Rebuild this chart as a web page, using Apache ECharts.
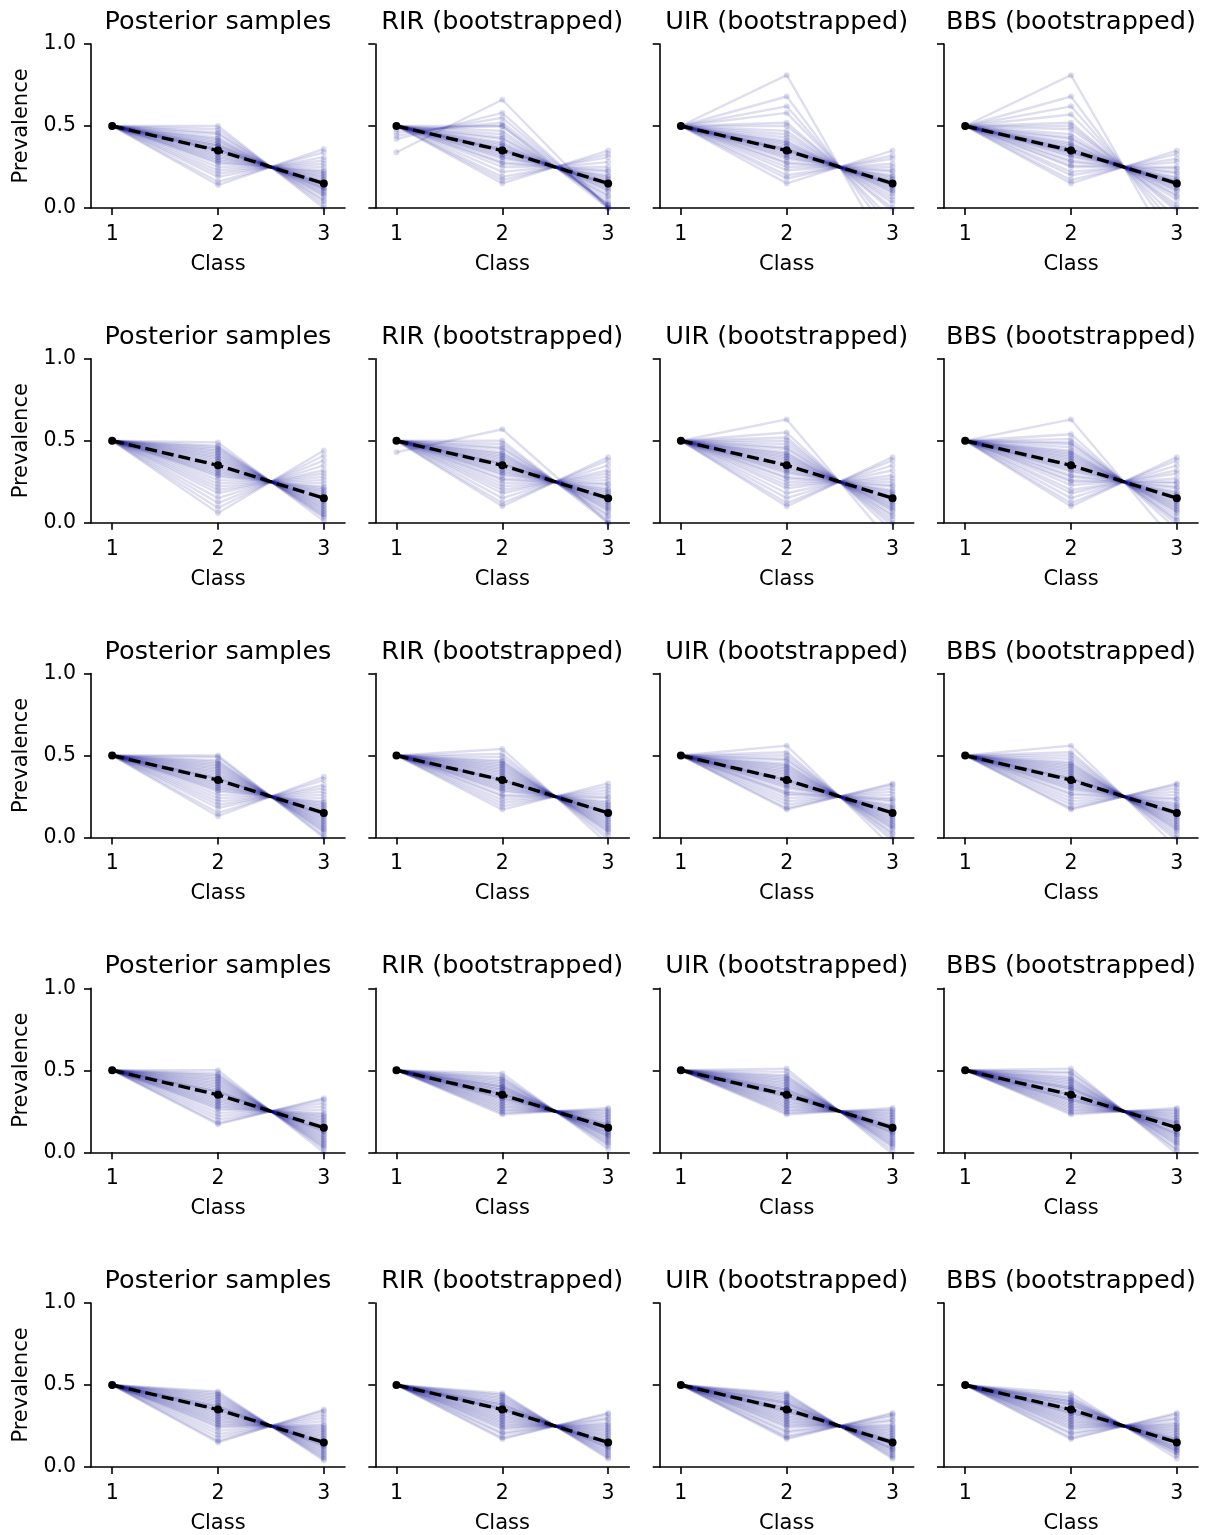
<!DOCTYPE html>
<html>
<head>
<meta charset="utf-8">
<script src="https://cdn.jsdelivr.net/npm/echarts@6/dist/echarts.min.js"></script>
<style>
  html, body { margin: 0; padding: 0; background: #fff; }
  #main { width: 1211px; height: 1535px; }
</style>
</head>
<body>
<div id="main"></div>
<script>
// x categories and reference prevalence
const classes = [1, 2, 3];
const truePrev = [0.5, 0.35, 0.15];
const xTicks = [1, 2, 3];
const yTicks = [0, 0.5, 1.0];
const titles = ['Posterior samples', 'RIR (bootstrapped)', 'UIR (bootstrapped)', 'BBS (bootstrapped)'];

const r1Post = [[0.5,0.50,0.00],[0.5,0.48,0.02],[0.5,0.46,0.04],[0.5,0.45,0.05],[0.5,0.43,0.07],[0.5,0.42,0.08],[0.5,0.41,0.09],[0.5,0.40,0.10],[0.5,0.39,0.11],[0.5,0.38,0.12],[0.5,0.38,0.12],[0.5,0.37,0.13],[0.5,0.36,0.14],[0.5,0.36,0.14],[0.5,0.35,0.15],[0.5,0.35,0.15],[0.5,0.34,0.16],[0.5,0.33,0.17],[0.5,0.32,0.18],[0.5,0.31,0.19],[0.5,0.30,0.20],[0.5,0.29,0.21],[0.5,0.28,0.22],[0.5,0.27,0.23],[0.5,0.25,0.25],[0.5,0.23,0.27],[0.5,0.21,0.29],[0.5,0.19,0.31],[0.5,0.16,0.34],[0.5,0.14,0.36]];
const r1Rir = [[0.34,0.66,0.00],[0.42,0.58,0.00],[0.44,0.55,0.01],[0.46,0.52,0.02],[0.48,0.50,0.02],[0.5,0.50,0.00],[0.5,0.47,0.03],[0.5,0.45,0.05],[0.5,0.43,0.07],[0.5,0.42,0.08],[0.5,0.40,0.10],[0.5,0.39,0.11],[0.5,0.38,0.12],[0.5,0.37,0.13],[0.5,0.36,0.14],[0.5,0.36,0.14],[0.5,0.35,0.15],[0.5,0.35,0.15],[0.5,0.34,0.16],[0.5,0.33,0.17],[0.5,0.32,0.18],[0.5,0.31,0.19],[0.5,0.30,0.20],[0.5,0.28,0.22],[0.5,0.27,0.23],[0.5,0.25,0.25],[0.5,0.22,0.28],[0.5,0.19,0.31],[0.5,0.17,0.33],[0.5,0.15,0.35]];
const r1Uir = [[0.5,0.81,-0.31],[0.5,0.68,-0.18],[0.5,0.62,-0.12],[0.5,0.58,-0.08],[0.5,0.52,-0.02],[0.5,0.50,0.00],[0.5,0.47,0.03],[0.5,0.45,0.05],[0.5,0.43,0.07],[0.5,0.41,0.09],[0.5,0.40,0.10],[0.5,0.39,0.11],[0.5,0.38,0.12],[0.5,0.37,0.13],[0.5,0.36,0.14],[0.5,0.36,0.14],[0.5,0.35,0.15],[0.5,0.35,0.15],[0.5,0.34,0.16],[0.5,0.33,0.17],[0.5,0.32,0.18],[0.5,0.31,0.19],[0.5,0.30,0.20],[0.5,0.28,0.22],[0.5,0.27,0.23],[0.5,0.25,0.25],[0.5,0.23,0.27],[0.5,0.20,0.30],[0.5,0.18,0.32],[0.5,0.15,0.35]];
const r1Bbs = [[0.5,0.81,-0.31],[0.5,0.68,-0.18],[0.5,0.62,-0.12],[0.5,0.57,-0.07],[0.5,0.52,-0.02],[0.5,0.50,0.00],[0.5,0.48,0.02],[0.5,0.45,0.05],[0.5,0.43,0.07],[0.5,0.42,0.08],[0.5,0.40,0.10],[0.5,0.39,0.11],[0.5,0.38,0.12],[0.5,0.37,0.13],[0.5,0.36,0.14],[0.5,0.36,0.14],[0.5,0.35,0.15],[0.5,0.34,0.16],[0.5,0.34,0.16],[0.5,0.33,0.17],[0.5,0.32,0.18],[0.5,0.31,0.19],[0.5,0.29,0.21],[0.5,0.28,0.22],[0.5,0.26,0.24],[0.5,0.25,0.25],[0.5,0.22,0.28],[0.5,0.20,0.30],[0.5,0.17,0.33],[0.5,0.15,0.35]];

const r2Post = [[0.5,0.49,0.01],[0.5,0.47,0.03],[0.5,0.46,0.04],[0.5,0.45,0.05],[0.5,0.44,0.06],[0.5,0.43,0.07],[0.5,0.42,0.08],[0.5,0.41,0.09],[0.5,0.40,0.10],[0.5,0.39,0.11],[0.5,0.38,0.12],[0.5,0.37,0.13],[0.5,0.36,0.14],[0.5,0.35,0.15],[0.5,0.34,0.16],[0.5,0.33,0.17],[0.5,0.32,0.18],[0.5,0.31,0.19],[0.5,0.30,0.20],[0.5,0.29,0.21],[0.5,0.28,0.22],[0.5,0.26,0.24],[0.5,0.24,0.26],[0.5,0.22,0.28],[0.5,0.20,0.30],[0.5,0.18,0.32],[0.5,0.15,0.35],[0.5,0.12,0.38],[0.5,0.09,0.41],[0.5,0.06,0.44]];
const r2Rir = [[0.43,0.57,0.00],[0.5,0.50,0.00],[0.5,0.48,0.02],[0.5,0.46,0.04],[0.5,0.45,0.05],[0.5,0.43,0.07],[0.5,0.42,0.08],[0.5,0.41,0.09],[0.5,0.40,0.10],[0.5,0.39,0.11],[0.5,0.38,0.12],[0.5,0.37,0.13],[0.5,0.36,0.14],[0.5,0.36,0.14],[0.5,0.35,0.15],[0.5,0.34,0.16],[0.5,0.33,0.17],[0.5,0.32,0.18],[0.5,0.31,0.19],[0.5,0.30,0.20],[0.5,0.29,0.21],[0.5,0.27,0.23],[0.5,0.26,0.24],[0.5,0.24,0.26],[0.5,0.22,0.28],[0.5,0.20,0.30],[0.5,0.18,0.32],[0.5,0.15,0.35],[0.5,0.12,0.38],[0.5,0.10,0.40]];
const r2Uir = [[0.5,0.63,-0.13],[0.5,0.55,-0.05],[0.5,0.52,-0.02],[0.5,0.50,0.00],[0.5,0.48,0.02],[0.5,0.46,0.04],[0.5,0.45,0.05],[0.5,0.43,0.07],[0.5,0.42,0.08],[0.5,0.41,0.09],[0.5,0.40,0.10],[0.5,0.39,0.11],[0.5,0.38,0.12],[0.5,0.37,0.13],[0.5,0.36,0.14],[0.5,0.35,0.15],[0.5,0.34,0.16],[0.5,0.33,0.17],[0.5,0.32,0.18],[0.5,0.31,0.19],[0.5,0.30,0.20],[0.5,0.28,0.22],[0.5,0.27,0.23],[0.5,0.25,0.25],[0.5,0.23,0.27],[0.5,0.21,0.29],[0.5,0.18,0.32],[0.5,0.15,0.35],[0.5,0.12,0.38],[0.5,0.10,0.40]];
const r2Bbs = [[0.5,0.63,-0.13],[0.5,0.54,-0.04],[0.5,0.51,-0.01],[0.5,0.49,0.01],[0.5,0.48,0.02],[0.5,0.46,0.04],[0.5,0.44,0.06],[0.5,0.43,0.07],[0.5,0.42,0.08],[0.5,0.41,0.09],[0.5,0.40,0.10],[0.5,0.39,0.11],[0.5,0.38,0.12],[0.5,0.37,0.13],[0.5,0.36,0.14],[0.5,0.35,0.15],[0.5,0.34,0.16],[0.5,0.33,0.17],[0.5,0.32,0.18],[0.5,0.31,0.19],[0.5,0.29,0.21],[0.5,0.28,0.22],[0.5,0.26,0.24],[0.5,0.25,0.25],[0.5,0.23,0.27],[0.5,0.20,0.30],[0.5,0.18,0.32],[0.5,0.15,0.35],[0.5,0.12,0.38],[0.5,0.10,0.40]];

const r3Post = [[0.5,0.50,0.00],[0.5,0.49,0.01],[0.5,0.47,0.03],[0.5,0.46,0.04],[0.5,0.45,0.05],[0.5,0.44,0.06],[0.5,0.43,0.07],[0.5,0.42,0.08],[0.5,0.41,0.09],[0.5,0.40,0.10],[0.5,0.39,0.11],[0.5,0.38,0.12],[0.5,0.37,0.13],[0.5,0.36,0.14],[0.5,0.36,0.14],[0.5,0.35,0.15],[0.5,0.34,0.16],[0.5,0.33,0.17],[0.5,0.32,0.18],[0.5,0.31,0.19],[0.5,0.30,0.20],[0.5,0.29,0.21],[0.5,0.28,0.22],[0.5,0.26,0.24],[0.5,0.24,0.26],[0.5,0.22,0.28],[0.5,0.20,0.30],[0.5,0.18,0.32],[0.5,0.15,0.35],[0.5,0.13,0.37]];
const r3Rir = [[0.5,0.54,-0.04],[0.5,0.51,-0.01],[0.5,0.49,0.01],[0.5,0.47,0.03],[0.5,0.46,0.04],[0.5,0.45,0.05],[0.5,0.44,0.06],[0.5,0.43,0.07],[0.5,0.42,0.08],[0.5,0.41,0.09],[0.5,0.40,0.10],[0.5,0.39,0.11],[0.5,0.38,0.12],[0.5,0.37,0.13],[0.5,0.36,0.14],[0.5,0.35,0.15],[0.5,0.35,0.15],[0.5,0.34,0.16],[0.5,0.33,0.17],[0.5,0.32,0.18],[0.5,0.31,0.19],[0.5,0.30,0.20],[0.5,0.29,0.21],[0.5,0.28,0.22],[0.5,0.26,0.24],[0.5,0.25,0.25],[0.5,0.23,0.27],[0.5,0.21,0.29],[0.5,0.19,0.31],[0.5,0.17,0.33]];
const r3Uir = [[0.5,0.56,-0.06],[0.5,0.52,-0.02],[0.5,0.50,0.00],[0.5,0.48,0.02],[0.5,0.47,0.03],[0.5,0.45,0.05],[0.5,0.44,0.06],[0.5,0.43,0.07],[0.5,0.42,0.08],[0.5,0.41,0.09],[0.5,0.40,0.10],[0.5,0.39,0.11],[0.5,0.38,0.12],[0.5,0.37,0.13],[0.5,0.36,0.14],[0.5,0.35,0.15],[0.5,0.35,0.15],[0.5,0.34,0.16],[0.5,0.33,0.17],[0.5,0.32,0.18],[0.5,0.31,0.19],[0.5,0.30,0.20],[0.5,0.28,0.22],[0.5,0.27,0.23],[0.5,0.26,0.24],[0.5,0.24,0.26],[0.5,0.22,0.28],[0.5,0.20,0.30],[0.5,0.18,0.32],[0.5,0.17,0.33]];
const r3Bbs = [[0.5,0.56,-0.06],[0.5,0.52,-0.02],[0.5,0.50,0.00],[0.5,0.48,0.02],[0.5,0.46,0.04],[0.5,0.45,0.05],[0.5,0.44,0.06],[0.5,0.43,0.07],[0.5,0.42,0.08],[0.5,0.41,0.09],[0.5,0.40,0.10],[0.5,0.39,0.11],[0.5,0.38,0.12],[0.5,0.37,0.13],[0.5,0.36,0.14],[0.5,0.36,0.14],[0.5,0.35,0.15],[0.5,0.34,0.16],[0.5,0.33,0.17],[0.5,0.32,0.18],[0.5,0.31,0.19],[0.5,0.30,0.20],[0.5,0.29,0.21],[0.5,0.27,0.23],[0.5,0.26,0.24],[0.5,0.24,0.26],[0.5,0.22,0.28],[0.5,0.20,0.30],[0.5,0.18,0.32],[0.5,0.17,0.33]];

const r4Post = [[0.5,0.50,0.00],[0.5,0.48,0.02],[0.5,0.47,0.03],[0.5,0.46,0.04],[0.5,0.45,0.05],[0.5,0.44,0.06],[0.5,0.43,0.07],[0.5,0.42,0.08],[0.5,0.41,0.09],[0.5,0.40,0.10],[0.5,0.39,0.11],[0.5,0.38,0.12],[0.5,0.37,0.13],[0.5,0.37,0.13],[0.5,0.36,0.14],[0.5,0.35,0.15],[0.5,0.34,0.16],[0.5,0.33,0.17],[0.5,0.32,0.18],[0.5,0.31,0.19],[0.5,0.30,0.20],[0.5,0.29,0.21],[0.5,0.28,0.22],[0.5,0.27,0.23],[0.5,0.26,0.24],[0.5,0.24,0.26],[0.5,0.22,0.28],[0.5,0.20,0.30],[0.5,0.18,0.32],[0.5,0.17,0.33]];
const r4Rir = [[0.5,0.48,0.02],[0.5,0.46,0.04],[0.5,0.45,0.05],[0.5,0.44,0.06],[0.5,0.43,0.07],[0.5,0.42,0.08],[0.5,0.41,0.09],[0.5,0.40,0.10],[0.5,0.40,0.10],[0.5,0.39,0.11],[0.5,0.38,0.12],[0.5,0.38,0.12],[0.5,0.37,0.13],[0.5,0.36,0.14],[0.5,0.36,0.14],[0.5,0.35,0.15],[0.5,0.35,0.15],[0.5,0.34,0.16],[0.5,0.33,0.17],[0.5,0.33,0.17],[0.5,0.32,0.18],[0.5,0.31,0.19],[0.5,0.30,0.20],[0.5,0.29,0.21],[0.5,0.28,0.22],[0.5,0.27,0.23],[0.5,0.26,0.24],[0.5,0.25,0.25],[0.5,0.24,0.26],[0.5,0.23,0.27]];
const r4Uir = [[0.5,0.51,-0.01],[0.5,0.49,0.01],[0.5,0.47,0.03],[0.5,0.46,0.04],[0.5,0.45,0.05],[0.5,0.44,0.06],[0.5,0.43,0.07],[0.5,0.42,0.08],[0.5,0.41,0.09],[0.5,0.40,0.10],[0.5,0.39,0.11],[0.5,0.38,0.12],[0.5,0.38,0.12],[0.5,0.37,0.13],[0.5,0.36,0.14],[0.5,0.36,0.14],[0.5,0.35,0.15],[0.5,0.34,0.16],[0.5,0.34,0.16],[0.5,0.33,0.17],[0.5,0.32,0.18],[0.5,0.31,0.19],[0.5,0.30,0.20],[0.5,0.29,0.21],[0.5,0.28,0.22],[0.5,0.27,0.23],[0.5,0.26,0.24],[0.5,0.25,0.25],[0.5,0.24,0.26],[0.5,0.23,0.27]];
const r4Bbs = [[0.5,0.51,-0.01],[0.5,0.49,0.01],[0.5,0.48,0.02],[0.5,0.46,0.04],[0.5,0.45,0.05],[0.5,0.44,0.06],[0.5,0.43,0.07],[0.5,0.42,0.08],[0.5,0.41,0.09],[0.5,0.40,0.10],[0.5,0.39,0.11],[0.5,0.39,0.11],[0.5,0.38,0.12],[0.5,0.37,0.13],[0.5,0.36,0.14],[0.5,0.35,0.15],[0.5,0.35,0.15],[0.5,0.34,0.16],[0.5,0.33,0.17],[0.5,0.32,0.18],[0.5,0.32,0.18],[0.5,0.31,0.19],[0.5,0.30,0.20],[0.5,0.29,0.21],[0.5,0.28,0.22],[0.5,0.27,0.23],[0.5,0.26,0.24],[0.5,0.25,0.25],[0.5,0.24,0.26],[0.5,0.23,0.27]];

const r5Post = [[0.5,0.46,0.04],[0.5,0.45,0.05],[0.5,0.44,0.06],[0.5,0.43,0.07],[0.5,0.42,0.08],[0.5,0.41,0.09],[0.5,0.40,0.10],[0.5,0.39,0.11],[0.5,0.38,0.12],[0.5,0.37,0.13],[0.5,0.37,0.13],[0.5,0.36,0.14],[0.5,0.35,0.15],[0.5,0.35,0.15],[0.5,0.34,0.16],[0.5,0.33,0.17],[0.5,0.32,0.18],[0.5,0.31,0.19],[0.5,0.30,0.20],[0.5,0.29,0.21],[0.5,0.28,0.22],[0.5,0.27,0.23],[0.5,0.26,0.24],[0.5,0.25,0.25],[0.5,0.24,0.26],[0.5,0.22,0.28],[0.5,0.20,0.30],[0.5,0.18,0.32],[0.5,0.16,0.34],[0.5,0.15,0.35]];
const r5Rir = [[0.5,0.45,0.05],[0.5,0.44,0.06],[0.5,0.43,0.07],[0.5,0.42,0.08],[0.5,0.41,0.09],[0.5,0.40,0.10],[0.5,0.39,0.11],[0.5,0.38,0.12],[0.5,0.38,0.12],[0.5,0.37,0.13],[0.5,0.36,0.14],[0.5,0.36,0.14],[0.5,0.35,0.15],[0.5,0.35,0.15],[0.5,0.34,0.16],[0.5,0.33,0.17],[0.5,0.32,0.18],[0.5,0.31,0.19],[0.5,0.30,0.20],[0.5,0.29,0.21],[0.5,0.28,0.22],[0.5,0.27,0.23],[0.5,0.26,0.24],[0.5,0.25,0.25],[0.5,0.24,0.26],[0.5,0.23,0.27],[0.5,0.21,0.29],[0.5,0.20,0.30],[0.5,0.18,0.32],[0.5,0.17,0.33]];
const r5Uir = [[0.5,0.45,0.05],[0.5,0.44,0.06],[0.5,0.43,0.07],[0.5,0.42,0.08],[0.5,0.41,0.09],[0.5,0.40,0.10],[0.5,0.39,0.11],[0.5,0.39,0.11],[0.5,0.38,0.12],[0.5,0.37,0.13],[0.5,0.36,0.14],[0.5,0.36,0.14],[0.5,0.35,0.15],[0.5,0.34,0.16],[0.5,0.34,0.16],[0.5,0.33,0.17],[0.5,0.32,0.18],[0.5,0.31,0.19],[0.5,0.30,0.20],[0.5,0.29,0.21],[0.5,0.28,0.22],[0.5,0.27,0.23],[0.5,0.26,0.24],[0.5,0.25,0.25],[0.5,0.24,0.26],[0.5,0.22,0.28],[0.5,0.21,0.29],[0.5,0.19,0.31],[0.5,0.18,0.32],[0.5,0.17,0.33]];
const r5Bbs = [[0.5,0.45,0.05],[0.5,0.43,0.07],[0.5,0.42,0.08],[0.5,0.41,0.09],[0.5,0.40,0.10],[0.5,0.40,0.10],[0.5,0.39,0.11],[0.5,0.38,0.12],[0.5,0.38,0.12],[0.5,0.37,0.13],[0.5,0.36,0.14],[0.5,0.35,0.15],[0.5,0.35,0.15],[0.5,0.34,0.16],[0.5,0.33,0.17],[0.5,0.33,0.17],[0.5,0.32,0.18],[0.5,0.31,0.19],[0.5,0.30,0.20],[0.5,0.29,0.21],[0.5,0.28,0.22],[0.5,0.27,0.23],[0.5,0.26,0.24],[0.5,0.25,0.25],[0.5,0.24,0.26],[0.5,0.23,0.27],[0.5,0.21,0.29],[0.5,0.20,0.30],[0.5,0.18,0.32],[0.5,0.17,0.33]];

const panelRows = [
    [r1Post, r1Rir, r1Uir, r1Bbs],
    [r2Post, r2Rir, r2Uir, r2Bbs],
    [r3Post, r3Rir, r3Uir, r3Bbs],
    [r4Post, r4Rir, r4Uir, r4Bbs],
    [r5Post, r5Rir, r5Uir, r5Bbs]
];

let chartDom = document.getElementById('main');
let myChart = echarts.init(chartDom);

const font = 'DejaVu Sans';
const colLeft = [91, 375.3, 659.7, 944];
const rowTop = [44, 358.75, 673.5, 988.25, 1303];
const panelW = 254;
const panelH = 164;
const sampleColor = '#00008b';

let grids = [], xAxes = [], yAxes = [], series = [], graphics = [];

panelRows.forEach((row, r) => {
    row.forEach((samples, c) => {
        const k = grids.length;
        grids.push({ left: colLeft[c], top: rowTop[r], width: panelW, height: panelH });
        xAxes.push({
            type: 'value',
            gridIndex: k,
            min: 0.8,
            max: 3.2,
            name: 'Class',
            nameLocation: 'middle',
            nameGap: 46,
            nameTextStyle: { color: '#000', fontSize: 21, fontFamily: font },
            axisLine: { lineStyle: { color: '#000', width: 1.6 } },
            axisTick: { show: true, length: 7, customValues: xTicks, lineStyle: { color: '#000', width: 1.6 } },
            axisLabel: { customValues: xTicks, margin: 16, color: '#000', fontSize: 20.5, fontFamily: font },
            splitLine: { show: false }
        });
        yAxes.push({
            type: 'value',
            gridIndex: k,
            min: 0,
            max: 1,
            interval: 0.5,
            name: c === 0 ? 'Prevalence' : '',
            nameLocation: 'middle',
            nameGap: 59,
            nameTextStyle: { color: '#000', fontSize: 21, fontFamily: font },
            axisLine: { show: true, lineStyle: { color: '#000', width: 1.6 } },
            axisTick: { show: true, length: 7, lineStyle: { color: '#000', width: 1.6 } },
            axisLabel: {
                show: c === 0,
                margin: 15,
                color: '#000',
                fontSize: 20.5,
                fontFamily: font,
                formatter: v => v.toFixed(1)
            },
            splitLine: { show: false }
        });
        samples.forEach(s => {
            series.push({
                type: 'line',
                xAxisIndex: k,
                yAxisIndex: k,
                data: classes.map((x, i) => [x, s[i]]),
                symbol: 'circle',
                symbolSize: 6,
                showSymbol: true,
                silent: true,
                animation: false,
                z: 2,
                lineStyle: { color: sampleColor, width: 2.4, opacity: 0.13 },
                itemStyle: { color: sampleColor, opacity: 0.13 },
                emphasis: { disabled: true }
            });
        });
        series.push({
            type: 'line',
            xAxisIndex: k,
            yAxisIndex: k,
            data: classes.map((x, i) => [x, truePrev[i]]),
            symbol: 'circle',
            symbolSize: 8,
            silent: true,
            animation: false,
            z: 10,
            lineStyle: { color: '#000', width: 3.4, type: [12, 5] },
            itemStyle: { color: '#000' },
            emphasis: { disabled: true }
        });
        graphics.push({
            type: 'text',
            x: colLeft[c] + panelW / 2,
            y: rowTop[r] - 21.5,
            style: {
                text: titles[c],
                fill: '#000',
                font: '25.5px "' + font + '"',
                align: 'center',
                verticalAlign: 'middle'
            }
        });
    });
});

let option = {
    backgroundColor: '#fff',
    animation: false,
    textStyle: { fontFamily: font },
    grid: grids,
    xAxis: xAxes,
    yAxis: yAxes,
    series: series,
    graphic: graphics
};

option && myChart.setOption(option);
</script>
</body>
</html>
